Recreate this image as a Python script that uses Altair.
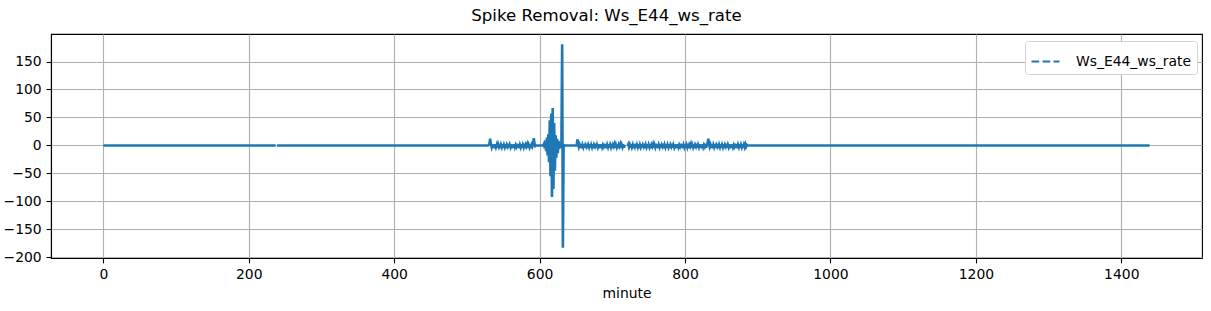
import altair as alt
import pandas as pd

# ---- data ----
n_minutes = 1440
series_name = "Ws_E44_ws_rate"

# noisy stretch 530..595 (small spikes at 532 and 592)
seg_a_start = 530
seg_a = [1, 3, 12, 2, -3, 2, -4, 1, -5, 2,
         -3, 1, -4, 2, -2, 3, -5, 1, -3, 2,
         -4, 1, -3, 2, -5, 1, -2, 3, -4, 1,
         -3, 2, -5, 1, -4, 2, -3, 1, -2, 3,
         -4, 2, -5, 1, -3, 2, -4, 1, -3, 3,
         -5, 1, -2, 2, -4, 1, -3, 2, -5, 1,
         -2, 2, 13, 3, -1, 0]

# oscillating burst 606..634 with the big spike at 631/632
seg_b_start = 606
seg_b = [3, -5, 8, -10, 14, -18, 20, -30, 45, -55,
         57, -92, 67, -78, 40, -45, 18, -22, 12, -14,
         8, -6, 5, -4, 3, 181, -183, 2, -1]

# noisy stretch 651..717 (spike at 652)
seg_c_start = 651
seg_c = [0, 11, 2, -3, 1, -4, 2, -5, 1, -3,
         2, -4, 1, -2, 3, -5, 1, -3, 2, -4,
         1, -3, 2, -5, 1, -2, 3, -4, 1, -3,
         2, -5, 1, -4, 2, -3, 1, -2, 3, -4,
         2, -5, 1, -3, 2, -4, 1, -3, 3, -5,
         1, -2, 2, -4, 1, -3, 2, -5, 1, -2,
         2, -4, 1, -3, 2, -4, 1]

# noisy stretch 721..886 (spike at 832)
seg_d_start = 721
seg_d = [-1, 2, -3, 1, -4, 2, -3, 1, -5, 2,
         -2, 3, -4, 1, -3, 2, -5, 1, -3, 2,
         -4, 1, -2, 3, -5, 1, -3, 2, -4, 1,
         -3, 2, -5, 1, -2, 2, -4, 1, -3, 3,
         -4, 2, -5, 1, -3, 2, -4, 1, -2, 3,
         -5, 1, -3, 2, -4, 1, -3, 2, -5, 1,
         -2, 3, -4, 1, -3, 2, -5, 1, -4, 2,
         -3, 1, -2, 3, -4, 2, -5, 1, -3, 2,
         -4, 1, -3, 3, -5, 1, -2, 2, -4, 1,
         -3, 2, -5, 1, -2, 3, -4, 1, -3, 2,
         -4, 1, -5, 2, -3, 1, -2, 3, -4, 1,
         3, 12, 2, -3, 1, -4, 2, -5, 1, -3,
         2, -4, 1, -2, 3, -5, 1, -3, 2, -4,
         1, -3, 2, -5, 1, -2, 3, -4, 1, -3,
         2, -5, 1, -4, 2, -3, 1, -2, 3, -4,
         2, -5, 1, -3, 2, -4, 1, -3, 2, -4,
         1, -3, 2, -2, 1, 0]

missing_minutes = [238, 718, 719, 720]

# ---- build table ----
values = [0.0] * n_minutes
for start, seg in [(seg_a_start, seg_a), (seg_b_start, seg_b),
                   (seg_c_start, seg_c), (seg_d_start, seg_d)]:
    for i, v in enumerate(seg):
        values[start + i] = float(v)
vals = [None if m in missing_minutes else values[m] for m in range(n_minutes)]

df = pd.DataFrame({"minute": list(range(n_minutes)), "value": vals,
                   "series": [series_name] * n_minutes})

x_ticks = list(range(0, 1401, 200))
y_ticks = list(range(-200, 151, 50))

chart = alt.Chart(df).mark_line(strokeWidth=2.6, strokeCap="butt").encode(
    x=alt.X("minute:Q",
            scale=alt.Scale(domain=[-72, 1511], nice=False, zero=False),
            axis=alt.Axis(values=x_ticks, title="minute", format="d")),
    y=alt.Y("value:Q",
            scale=alt.Scale(domain=[-201.2, 199.2], nice=False, zero=False),
            axis=alt.Axis(values=y_ticks, title=None, format="d")),
    color=alt.Color("series:N",
                    scale=alt.Scale(domain=[series_name], range=["#1f77b4"]),
                    legend=alt.Legend(title=None, orient="none",
                                      legendX=974, legendY=7,
                                      symbolType="stroke", symbolSize=784,
                                      symbolStrokeWidth=2.08,
                                      symbolDash=[7.7, 3.3],
                                      labelFont="DejaVu Sans",
                                      labelFontSize=13.9, labelColor="black",
                                      labelOffset=15,
                                      strokeColor="#d4d4d4", fillColor="white",
                                      cornerRadius=3, padding=5)),
).properties(
    width=1151, height=224,
    title=alt.TitleParams("Spike Removal: Ws_E44_ws_rate", font="DejaVu Sans",
                          fontSize=16.6, fontWeight="normal", color="black",
                          anchor="middle", frame="group", dx=-20, offset=9),
    padding={"left": 51, "top": 34, "right": 9, "bottom": 53},
    autosize=alt.AutoSizeParams(type="none"),
).configure_view(
    stroke="black", strokeWidth=1.1
).configure_axis(
    domainColor="black", domainWidth=1.1,
    tickColor="black", tickSize=4.9, tickWidth=1.1,
    labelFont="DejaVu Sans", labelFontSize=13.9, labelColor="black",
    labelPadding=4.9,
    gridColor="#b0b0b0", gridWidth=1.1,
    titleFont="DejaVu Sans", titleFontSize=13.9, titleFontWeight="normal",
    titleColor="black", titlePadding=5,
)

chart.save("out.html", embed_options={"renderer": "svg", "actions": False})
